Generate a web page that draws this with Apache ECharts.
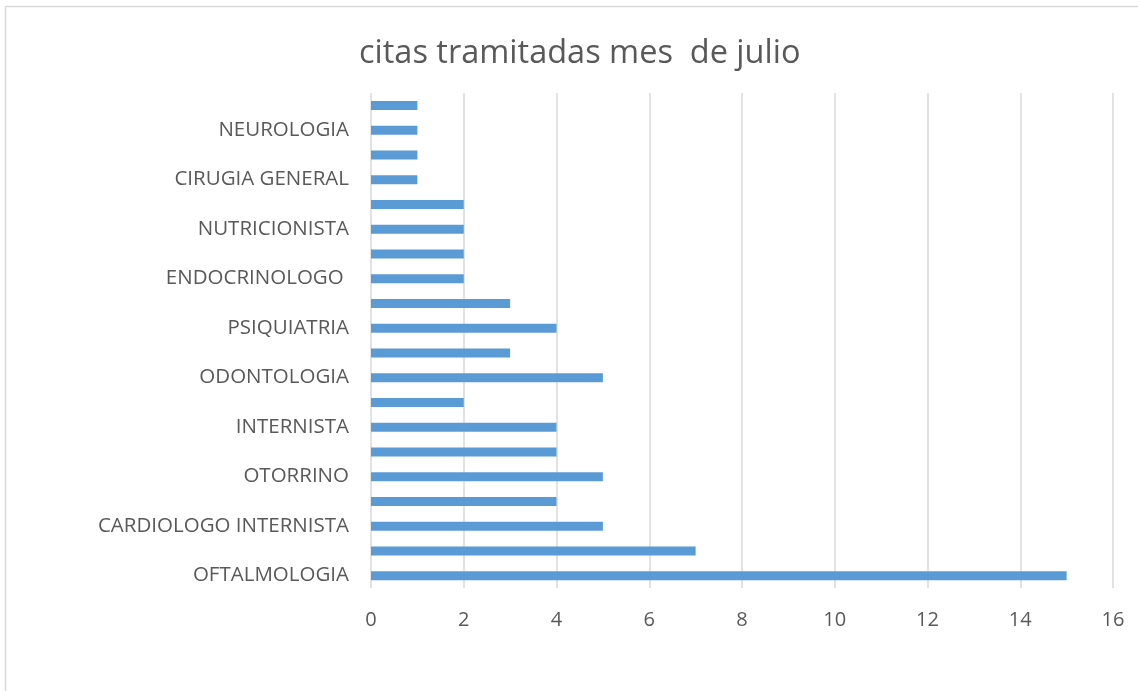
<!DOCTYPE html>
<html>
<head>
<meta charset="utf-8">
<script src="https://cdn.jsdelivr.net/npm/echarts@6/dist/echarts.min.js"></script>
<style>
  html, body { margin: 0; padding: 0; background: #fff; }
  #main { width: 1138px; height: 691px; }
</style>
</head>
<body>
<div id="main"></div>
<script>
// categories from bottom to top; Excel only printed every second label
var especialidades = [
  'OFTALMOLOGIA', '', 'CARDIOLOGO INTERNISTA', '', 'OTORRINO', '',
  'INTERNISTA', '', 'ODONTOLOGIA', '', 'PSIQUIATRIA', '',
  'ENDOCRINOLOGO ', '', 'NUTRICIONISTA', '', 'CIRUGIA GENERAL', '',
  'NEUROLOGIA', ''
];
var citas = [15, 7, 5, 4, 5, 4, 4, 2, 5, 3, 4, 3, 2, 2, 2, 2, 1, 1, 1, 1];
var xTicks = [0, 2, 4, 6, 8, 10, 12, 14, 16];

var chart = echarts.init(document.getElementById('main'));
chart.setOption({
  animation: false,
  textStyle: { fontFamily: 'Open Sans, Liberation Sans, sans-serif' },
  title: {
    text: 'citas tramitadas mes  de julio',
    left: 354,
    top: 32,
    textStyle: { fontSize: 32.5, fontWeight: 'normal', color: '#595959', fontFamily: 'Open Sans' }
  },
  graphic: [{
    type: 'rect',
    shape: { x: 5.5, y: 6.5, width: 1140, height: 700 },
    style: { fill: null, stroke: '#d9d9d9', lineWidth: 1.5 },
    silent: true
  }],
  grid: { left: 371, right: 25, top: 93, bottom: 103, containLabel: false },
  xAxis: {
    type: 'value',
    min: xTicks[0],
    max: xTicks[xTicks.length - 1],
    interval: 2,
    axisLine: { show: false },
    axisTick: { show: false },
    splitLine: { lineStyle: { color: '#d9d9d9', width: 1.5 } },
    axisLabel: { color: '#595959', fontSize: 20, margin: 22 }
  },
  yAxis: {
    type: 'category',
    data: especialidades,
    axisLine: { show: false },
    axisTick: { show: false },
    axisLabel: { color: '#595959', fontSize: 20.5, margin: 22, interval: 0 }
  },
  series: [{
    type: 'bar',
    data: citas,
    barWidth: 9,
    itemStyle: { color: '#5b9bd5' }
  }]
});
</script>
</body>
</html>
